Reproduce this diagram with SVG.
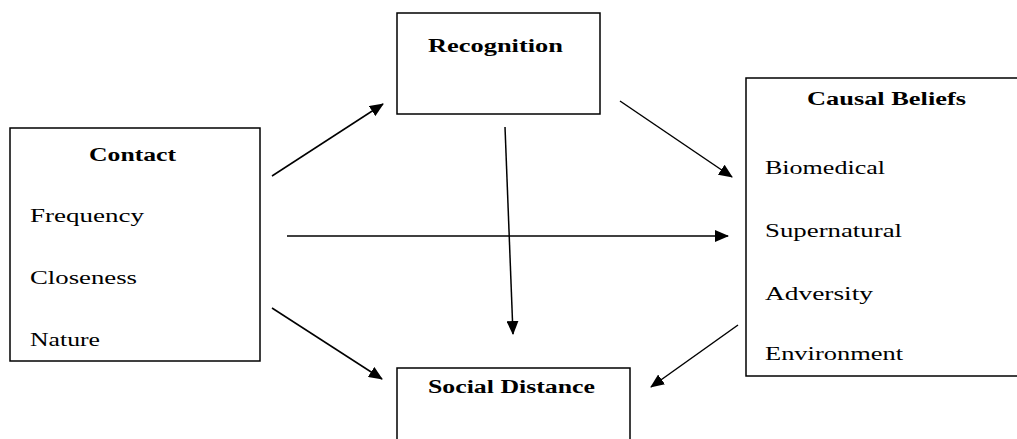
<svg xmlns="http://www.w3.org/2000/svg" width="1017" height="439" viewBox="0 0 1017 439">
<style>
.box{fill:#fff;stroke:#000;stroke-width:1.5}
.t{font-family:"Liberation Serif","Times New Roman",serif;font-size:18px;fill:#000}
.b{font-weight:bold}
.c{stroke:#000;stroke-width:1.5;fill:none;marker-end:url(#ah)}
</style>
<defs>
<marker id="ah" markerWidth="14" markerHeight="12" refX="13" refY="6" orient="auto" markerUnits="userSpaceOnUse">
<path d="M0,0 L14,6 L0,12 Z" fill="#000"/>
</marker>
</defs>
<rect width="1017" height="439" fill="#fff"/>
<g id="contact">
<rect class="box" x="10" y="128" width="250" height="233"/>
<text class="t b" x="89" y="161" textLength="87" lengthAdjust="spacingAndGlyphs">Contact</text>
<text class="t" x="30" y="222" textLength="114" lengthAdjust="spacingAndGlyphs">Frequency</text>
<text class="t" x="30" y="284" textLength="107" lengthAdjust="spacingAndGlyphs">Closeness</text>
<text class="t" x="30" y="346" textLength="70" lengthAdjust="spacingAndGlyphs">Nature</text>
</g>
<g id="recognition">
<rect class="box" x="397" y="13" width="203" height="101"/>
<text class="t b" x="428" y="52" textLength="135" lengthAdjust="spacingAndGlyphs">Recognition</text>
</g>
<g id="causal">
<rect class="box" x="746" y="78" width="280" height="298"/>
<text class="t b" x="807" y="105" textLength="159" lengthAdjust="spacingAndGlyphs">Causal Beliefs</text>
<text class="t" x="765" y="174" textLength="120" lengthAdjust="spacingAndGlyphs">Biomedical</text>
<text class="t" x="765" y="237" textLength="137" lengthAdjust="spacingAndGlyphs">Supernatural</text>
<text class="t" x="765" y="300" textLength="108" lengthAdjust="spacingAndGlyphs">Adversity</text>
<text class="t" x="765" y="360" textLength="138" lengthAdjust="spacingAndGlyphs">Environment</text>
</g>
<g id="social">
<rect class="box" x="397" y="368" width="233" height="90"/>
<text class="t b" x="428" y="393" textLength="167" lengthAdjust="spacingAndGlyphs">Social Distance</text>
</g>
<g id="connectors">
<line class="c" x1="272" y1="176" x2="383" y2="104"/>
<line class="c" x1="287" y1="236" x2="728" y2="236"/>
<line class="c" x1="272" y1="308" x2="382" y2="379"/>
<line class="c" x1="505" y1="127" x2="513" y2="334"/>
<line class="c" x1="620" y1="101" x2="732" y2="177"/>
<line class="c" x1="738" y1="325" x2="651" y2="387"/>
</g>
</svg>
